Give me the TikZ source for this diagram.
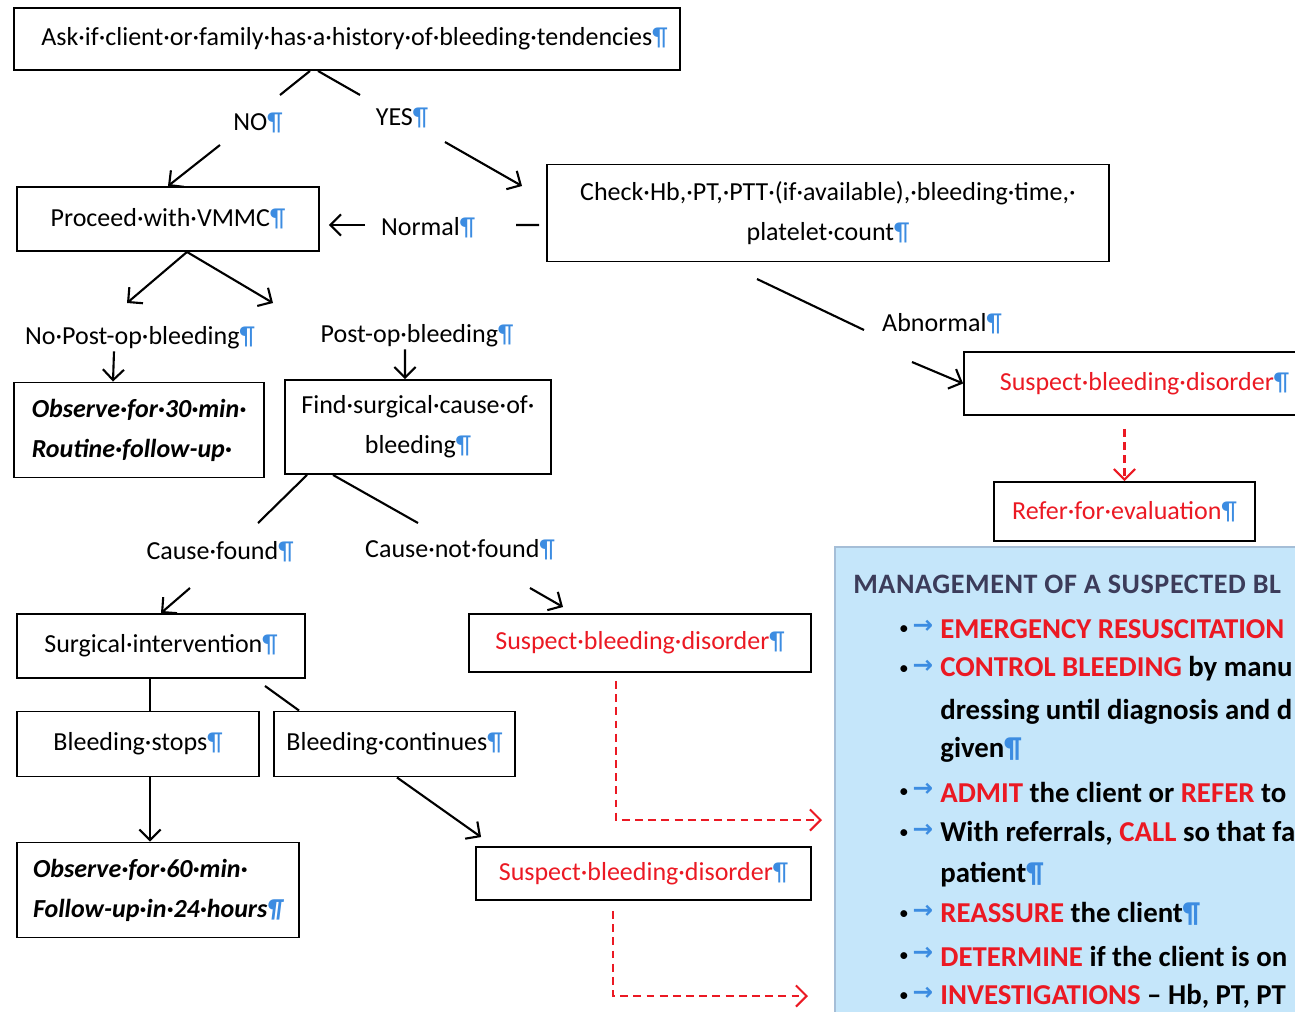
\documentclass[tikz,border=0pt]{standalone}
\usepackage{fontspec}
\setmainfont{Carlito}
\newfontfamily\symfont{DejaVu Sans}
\usetikzlibrary{arrows.meta,positioning,calc}
\definecolor{pilblue}{RGB}{60,140,225}
\definecolor{warnred}{RGB}{235,25,35}
\definecolor{panelblue}{RGB}{197,230,250}
\definecolor{paneledge}{RGB}{165,190,215}
\definecolor{titlegray}{RGB}{60,60,90}
\newcommand{\pil}{{\color{pilblue}¶}}
\newcommand{\redword}[1]{{\color{warnred}#1}}
\newcommand{\boxfont}{\fontsize{14.8}{22.7}\selectfont}
\newcommand{\panelfont}{\fontsize{16.4}{18}\selectfont\bfseries}

\begin{document}
\begin{tikzpicture}[x=0.02cm,y=-0.02cm,>={Straight Barb[length=6pt,width=12pt]},
  box/.style={draw,line width=1.1pt,inner sep=2pt,align=center,font=\boxfont},
  note/.style={box,align=left,font=\boxfont\bfseries\itshape},
  alarm/.style={box,text=warnred},
  lbl/.style={inner sep=1pt,font=\boxfont},
  item/.style={anchor=west,inner sep=0pt,font=\panelfont},
  link/.style={line width=1.2pt},
  redlink/.style={warnred,line width=1.2pt,dash pattern=on 4.5pt off 3pt}]
\clip (0,0) rectangle (1295,1011);
% management panel
\node[fill=panelblue,draw=paneledge,line width=1pt,anchor=north west,minimum width=10cm,minimum height=10cm] (panel) at (834,546) {};
\node[item,text=titlegray,font=\fontsize{16}{18}\selectfont\bfseries\addfontfeature{LetterSpace=2}] (ptitle) at (853,584) {MANAGEMENT OF A SUSPECTED BL};
\foreach \y in {629,669,792,833,914,956,996} {
  \node[inner sep=0pt,font=\fontsize{11}{11}\selectfont] (dot\y) at (904,\y+1) {•};
  \node[inner sep=0pt,text=pilblue,font=\symfont\bfseries\fontsize{14}{14}\selectfont] (tab\y) at (923,\y-2) {→};
}
\node[item] (i1) at (940,629) {\redword{EMERGENCY RESUSCITATION}};
\node[item] (i2) at (940,669) {\redword{CONTROL BLEEDING} by manu};
\node[item] (i2b) at (940,712) {dressing until diagnosis and d};
\node[item] (i2c) at (940,750) {given\pil};
\node[item] (i3) at (940,792) {\redword{ADMIT} the client or \redword{REFER} to};
\node[item] (i4) at (940,833) {With referrals, \redword{CALL} so that fa};
\node[item] (i4b) at (940,875) {patient\pil};
\node[item] (i5) at (940,914) {\redword{REASSURE} the client\pil};
\node[item] (i6) at (940,956) {\redword{DETERMINE} if the client is on};
\node[item] (i7) at (940,996) {\redword{INVESTIGATIONS} -- Hb, PT, PT};

% flowchart boxes
\node[box,minimum width=13.32cm,minimum height=1.24cm] (ask) at (347,39) {\hspace{0.3cm}Ask·if·client·or·family·has·a·history·of·bleeding·tendencies\pil};
\node[box,minimum width=6.04cm,minimum height=1.28cm] (vmmc) at (168,219) {Proceed·with·VMMC\pil};
\node[box,minimum width=11.24cm,minimum height=1.94cm] (check) at (828,213) {Check·Hb,·PT,·PTT·(if·available),·bleeding·time,·\\platelet·count\pil};
\node[note,minimum width=5cm,minimum height=1.9cm] (obs30) at (139,430) {Observe·for·30·min·\\Routine·follow-up·};
\node[box,minimum width=5.32cm,minimum height=1.88cm] (find) at (418,427) {Find·surgical·cause·of·\\bleeding\pil};
\node[box,minimum width=5.76cm,minimum height=1.28cm] (surg) at (161,646) {Surgical·intervention\pil};
\node[alarm,minimum width=6.84cm,minimum height=1.16cm] (susp1) at (640,643) {Suspect·bleeding·disorder\pil};
\node[box,minimum width=4.84cm,minimum height=1.3cm] (stops) at (138,744) {Bleeding·stops\pil};
\node[box,minimum width=4.82cm,minimum height=1.3cm] (cont) at (394.5,744) {Bleeding·continues\pil};
\node[note,minimum width=5.64cm,minimum height=1.9cm] (obs60) at (158,890) {Observe·for·60·min·\\Follow-up·in·24·hours\pil};
\node[alarm,minimum width=6.7cm,minimum height=1.06cm] (susp2) at (643.5,873.5) {Suspect·bleeding·disorder\pil};
\node[alarm,minimum width=7.22cm,minimum height=1.26cm] (susp0) at (1144.5,383.5) {Suspect·bleeding·disorder\pil};
\node[alarm,minimum width=5.22cm,minimum height=1.18cm] (refer) at (1124.5,511.5) {Refer·for·evaluation\pil};

% branch labels
\node[lbl] (no) at (258,123) {NO\pil};
\node[lbl] (yes) at (402,118) {YES\pil};
\node[lbl] (normal) at (428,228) {Normal\pil};
\node[lbl] (abn) at (942,324) {Abnormal\pil};
\node[lbl] (nopost) at (140,338) {No·Post-op·bleeding\pil};
\node[lbl] (post) at (417,336) {Post-op·bleeding\pil};
\node[lbl] (found) at (220,552) {Cause·found\pil};
\node[lbl] (notfound) at (460,550) {Cause·not·found\pil};

% loose ends of the split connectors
\coordinate (noT) at (280,95);
\coordinate (noB) at (220,145);
\coordinate (yesT) at (360,95);
\coordinate (yesB) at (445,142);
\coordinate (yesE) at (522,186);
\coordinate (normR) at (516,225);
\coordinate (normL) at (365,225);
\coordinate (leftE) at (127,303);
\coordinate (rightE) at (273,303);
\coordinate (foundT) at (258,523);
\coordinate (nfT) at (418,523);
\coordinate (foundB) at (190,588);
\coordinate (nfB) at (530,588);
\coordinate (nfE) at (563,607);
\coordinate (abnS) at (757,279);
\coordinate (abnT) at (864,330);
\coordinate (abnB) at (912,362);
\coordinate (pnlA) at (822,820);
\coordinate (pnlB) at (808,996);

\draw[link] ([xshift=-0.74cm]ask.south) -- (noT);
\draw[link,->] (noB) -- (vmmc.north);
\draw[link] ([xshift=-0.58cm]ask.south) -- (yesT);
\draw[link,->] (yesB) -- (yesE);
\draw[link] ([yshift=-0.24cm,xshift=-0.14cm]check.west) -- (normR);
\draw[link,->] (normL) -- ([xshift=0.18cm]vmmc.east |- normL);
\draw[link,->] ([xshift=0.38cm]vmmc.south) -- (leftE);
\draw[link,->] ([xshift=0.38cm]vmmc.south) -- (rightE);
\draw[link,->] ([xshift=-0.52cm]nopost.south) -- ([xshift=-0.52cm]obs30.north);
\draw[link,->] ([xshift=-0.24cm]post.south) -- ([xshift=-0.26cm]find.north);
\draw[link] ([xshift=-2.22cm]find.south) -- (foundT);
\draw[link] ([xshift=-1.7cm]find.south) -- (nfT);
\draw[link,->] (foundB) -- (surg.north);
\draw[link,->] (nfB) -- (nfE);
\draw[link] (abnS) -- (abnT);
\draw[link,->] (abnB) -- (susp0.west);
\draw[redlink,->] ([yshift=-0.26cm]susp0.south -| refer.north) -- (refer.north);
\draw[link] ([xshift=0.24cm]stops.north |- surg.south) -- ([xshift=0.24cm]stops.north);
\draw[link] ([xshift=2.08cm,yshift=-0.14cm]surg.south) -- ([xshift=0.52cm]cont.north west);
\draw[link,->] ([xshift=0.24cm]stops.south) -- ([xshift=0.24cm]stops.south |- obs60.north);
\draw[link,->] ([xshift=0.05cm]cont.south) -- ([yshift=0.18cm,xshift=0.12cm]susp2.north west);
\draw[redlink,->] ([xshift=-0.48cm,yshift=-0.16cm]susp1.south) |- (pnlA);
\draw[redlink,->] ([xshift=-0.61cm,yshift=-0.2cm]susp2.south) |- (pnlB);
\end{tikzpicture}
\end{document}
